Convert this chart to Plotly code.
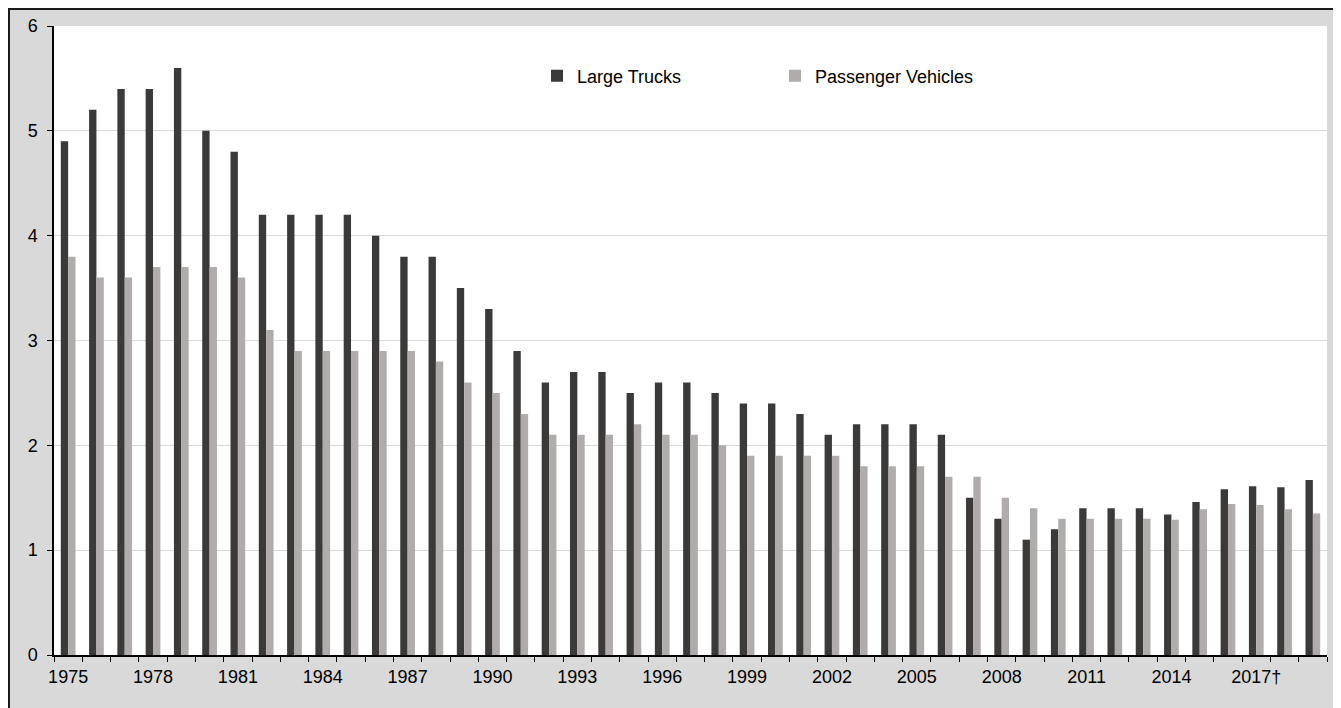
import plotly.graph_objects as go

TRUCK_DARK = "#3B3A38"
PASSENGER_GREY = "#AFACAB"
FRAME_GREY = "#D9D9D9"
GRID_GREY = "#D9D9D9"

years = list(range(1975, 2020))
large_trucks = [
    4.9, 5.2, 5.4, 5.4, 5.6, 5.0, 4.8, 4.2, 4.2, 4.2,
    4.2, 4.0, 3.8, 3.8, 3.5, 3.3, 2.9, 2.6, 2.7, 2.7,
    2.5, 2.6, 2.6, 2.5, 2.4, 2.4, 2.3, 2.1, 2.2, 2.2,
    2.2, 2.1, 1.5, 1.3, 1.1, 1.2, 1.4, 1.4, 1.4, 1.34,
    1.46, 1.58, 1.61, 1.6, 1.67,
]
passenger_vehicles = [
    3.8, 3.6, 3.6, 3.7, 3.7, 3.7, 3.6, 3.1, 2.9, 2.9,
    2.9, 2.9, 2.9, 2.8, 2.6, 2.5, 2.3, 2.1, 2.1, 2.1,
    2.2, 2.1, 2.1, 2.0, 1.9, 1.9, 1.9, 1.9, 1.8, 1.8,
    1.8, 1.7, 1.7, 1.5, 1.4, 1.3, 1.3, 1.3, 1.3, 1.29,
    1.39, 1.44, 1.43, 1.39, 1.35,
]
tick_years = [1975, 1978, 1981, 1984, 1987, 1990, 1993, 1996, 1999, 2002, 2005, 2008, 2011, 2014, 2017]
tick_labels = ["1975", "1978", "1981", "1984", "1987", "1990", "1993", "1996", "1999",
               "2002", "2005", "2008", "2011", "2014", "2017†"]

# figure geometry (px); the page body adds an 8px margin on top/left
W, H = 1333, 700
M_L, M_R, M_T, M_B = 46, 14, 18, 53
plot_w = W - M_L - M_R
plot_h = H - M_T - M_B


def px_x(px):
    return (px - M_L) / plot_w


def px_y(py):
    return (H - M_B - py) / plot_h


fig = go.Figure()
fig.add_trace(go.Bar(x=years, y=large_trucks, name="Large Trucks",
                     marker={"color": TRUCK_DARK, "line": {"width": 0}}))
fig.add_trace(go.Bar(x=years, y=passenger_vehicles, name="Passenger Vehicles",
                     marker={"color": PASSENGER_GREY, "line": {"width": 0}}))

fig.update_layout(
    width=W,
    height=H,
    margin={"l": M_L, "r": M_R, "t": M_T, "b": M_B, "autoexpand": False},
    barmode="group",
    bargap=0.48,
    bargroupgap=0,
    paper_bgcolor=FRAME_GREY,
    plot_bgcolor="white",
    font={"family": "Liberation Sans, Arial, sans-serif", "size": 18, "color": "#000000"},
    showlegend=True,
    legend={
        "orientation": "h",
        "x": px_x(529),
        "xanchor": "left",
        "y": px_y(68),
        "yanchor": "middle",
        "bgcolor": "rgba(0,0,0,0)",
        "entrywidth": 193,
        "entrywidthmode": "pixels",
        "font": {"size": 18},
    },
    xaxis={
        "range": [1974.5, 2019.5],
        "tickmode": "array",
        "tickvals": tick_years,
        "ticktext": tick_labels,
        "ticks": "",
        "ticklabelstandoff": 5,
        "showgrid": False,
        "zeroline": False,
        "showline": True,
        "linecolor": "#000000",
        "linewidth": 1.5,
        "minor": {
            "tickmode": "linear",
            "tick0": 1974.5,
            "dtick": 1,
            "ticks": "outside",
            "ticklen": 5,
            "tickcolor": "#000000",
            "tickwidth": 1,
            "showgrid": False,
        },
    },
    yaxis={
        "range": [0, 6],
        "dtick": 1,
        "ticks": "outside",
        "ticklen": 5,
        "tickcolor": "#000000",
        "ticklabelstandoff": 6,
        "showgrid": True,
        "gridcolor": GRID_GREY,
        "gridwidth": 1,
        "zeroline": False,
        "showline": True,
        "linecolor": "#000000",
        "linewidth": 1.5,
    },
    shapes=[
        # dark frame border along the top and left edges of the chart
        {"type": "line", "xref": "paper", "yref": "paper",
         "x0": px_x(0), "x1": px_x(W), "y0": px_y(0.5), "y1": px_y(0.5),
         "line": {"color": "#1A1A1A", "width": 3}},
        {"type": "line", "xref": "paper", "yref": "paper",
         "x0": px_x(0.5), "x1": px_x(0.5), "y0": px_y(0), "y1": px_y(H),
         "line": {"color": "#1A1A1A", "width": 3}},
    ],
)

fig.write_html("out.html")
